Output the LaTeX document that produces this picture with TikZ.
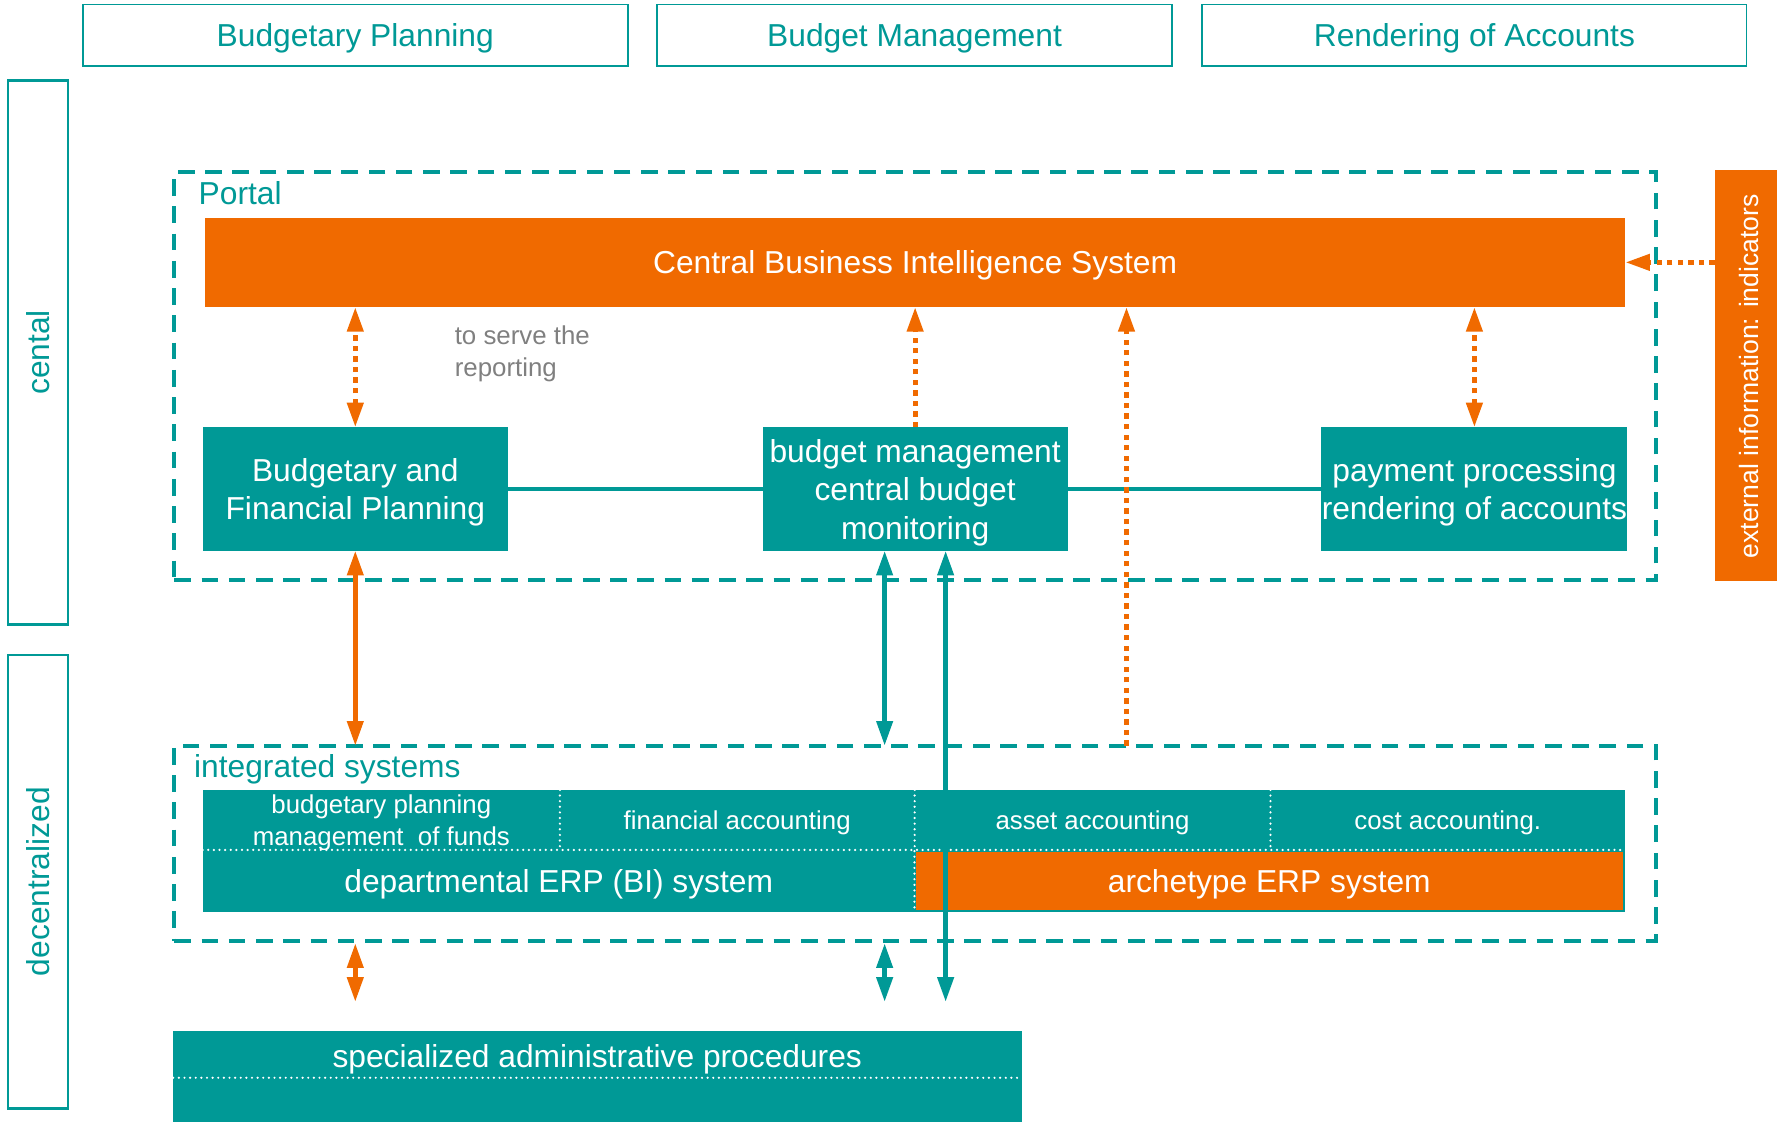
\documentclass[tikz,border=0pt]{standalone}
\usepackage{fontspec}
\setmainfont{Liberation Sans}
\usetikzlibrary{arrows.meta,calc}

\definecolor{bteal}{RGB}{0,153,150}
\definecolor{borange}{RGB}{240,106,0}
\definecolor{bgray}{RGB}{128,128,128}

\newcommand\fsMain{\fontsize{18.06}{21.9}\selectfont}
\newcommand\fsSmall{\fontsize{14.7}{18.06}\selectfont}
\newcommand\fsExt{\fontsize{15.1}{18}\selectfont}
\newlength\unitpx
\setlength\unitpx{0.64493pt}

\tikzset{
  bx/.style={inner sep=0pt, outer sep=0pt, rectangle},
  % rectangle given by its corners (x1,y1) (x2,y2) in picture units
  span/.style n args={4}{at={({(#1+#3)/2},{(#2+#4)/2})},
    minimum width={(#3-#1)*\unitpx}, minimum height={(#4-#2)*\unitpx}},
  phase/.style={bx, draw=bteal, line width=1.1pt, text=bteal, font=\fsMain, text depth=-0.6pt},
  level/.style={bx, draw=bteal, line width=1.3pt},
  leveltext/.style={rotate=90, text=bteal, font=\fsMain},
  region/.style={bx, draw=bteal, line width=2.3pt, dash pattern=on 9.5pt off 6pt},
  regionlabel/.style={anchor=west, inner sep=0pt, text=bteal, font=\fsMain},
  orangebox/.style={bx, fill=borange, text=white, font=\fsMain, align=center, text depth=-1pt},
  tealbox/.style={bx, fill=bteal, text=white, font=\fsMain, align=center, text depth=-1.4pt},
  cell/.style={bx, text=white, font=\fsSmall, align=center, text depth=-2pt},
  note/.style={anchor=west, inner sep=0pt, text=bgray, font=\fsSmall, align=left},
  wdots/.style={draw=white, line width=1.4pt, line cap=round, dash pattern=on 0pt off 3.2pt},
  odot/.style={draw=borange, line width=2.8pt, dash pattern=on 3pt off 3pt},
  oline/.style={draw=borange, line width=2.6pt},
  tline/.style={draw=bteal, line width=2.6pt},
  >={Triangle[length=14pt,width=9pt]}
}

\begin{document}
\begin{tikzpicture}[x=0.0226667cm, y=-0.0226667cm]
\useasboundingbox (0,0) rectangle (1568,990);

% process phases
\node[phase, span={73}{4}{554}{58}] (hplan) {Budgetary Planning};
\node[phase, span={580}{4}{1034}{58}] (hmgmt) {Budget Management};
\node[phase, span={1061}{4}{1541}{58}] (hrend) {Rendering of Accounts};

% organisational levels
\node[level, span={7}{71}{60}{551}] (lcent) {};
\node[leveltext] (lcenttext) at (lcent.center) {cental};
\node[level, span={7}{578}{60}{978}] (ldec) {};
\node[leveltext] (ldectext) at (ldec.center) {decentralized};

% portal layer
\node[region, span={154}{152}{1461}{512}] (portal) {};
\node[regionlabel] (portallabel) at (175,170) {Portal};
\node[orangebox, span={181}{192}{1434}{271}] (cbis) {Central Business Intelligence System};
\node[tealbox, span={179}{377}{448}{486}] (bfp) {Budgetary and\\Financial Planning};
\node[tealbox, span={673}{377}{942}{486}] (bm) {budget management\\central budget\\monitoring};
\node[tealbox, span={1166}{377}{1436}{486}] (pay) {payment processing\\rendering of accounts};
\node[note] (reportnote) at (401,312.5) {to serve the\\reporting};

% external source
\node[orangebox, span={1513}{150}{1572}{513}] (ext) {};
\node[rotate=90, text=white, font=\fsExt] (exttext) at (1543,332) {external information: indicators};

% integrated systems layer
\node[region, span={154}{658}{1461}{830}] (intg) {};
\node[regionlabel] (intglabel) at (171,678.5) {integrated systems};
\node[bx, fill=bteal, span={179}{697}{1434}{805}] (erp) {};
\node[cell, span={179}{697}{494}{750}] (cplan) {budgetary planning\\management~ of funds};
\node[cell, span={494}{697}{807}{750}] (cfin) {financial accounting};
\node[cell, span={807}{697}{1121}{750}] (casset) {asset accounting};
\node[cell, span={1121}{697}{1434}{750}] (ccost) {cost accounting.};
\node[tealbox, span={179}{750}{807}{805}] (dept) {departmental ERP (BI) system};
\node[orangebox, draw=bteal, line width=1.4pt, span={807}{751}{1433}{804}] (arch) {archetype ERP system};
\draw[wdots] (erp.west |- dept.north) -- (erp.east |- dept.north);
\draw[wdots] (cplan.north east) -- (cplan.south east);
\draw[wdots] (cfin.north east) -- (cfin.south east);
\draw[wdots] (casset.north east) -- (casset.south east);
\draw[wdots] (arch.north west) -- (arch.south west);

% specialised procedures
\node[bx, fill=bteal, span={153}{910}{902}{996}] (spec) {};
\node[text=white, font=\fsMain] (spectext) at (527,934.5) {specialized administrative procedures};
\coordinate (specrule) at (0,951);
\draw[wdots] (spec.west |- specrule) -- (spec.east |- specrule);

% links inside the portal
\draw[tline] (bfp.east) -- (bm.west);
\draw[tline] (bm.east) -- (pay.west);

% reporting flows to the BI system
\draw[odot, <->] (bfp.north) -- (bfp.north |- cbis.south);
\draw[odot, ->] (bm.north) -- (bm.north |- cbis.south);
\draw[odot, <->] (pay.north) -- (pay.north |- cbis.south);
\coordinate (reportfeed) at (994,658);
\draw[odot, ->] (reportfeed) -- (reportfeed |- cbis.south);
\draw[odot, ->] (ext.west |- cbis.east) -- (cbis.east);

% exchange between levels
\coordinate (bmdown) at ($(bm.south west)!0.4!(bm.south east)$);
\coordinate (bmfeed) at ($(bm.south west)!0.6!(bm.south east)$);
\coordinate (lowlevel) at (0,884);
\draw[oline, <->] (bfp.south) -- (bfp.south |- intg.north);
\draw[tline, <->] (bmdown) -- (bmdown |- intg.north);
\draw[tline, <->] (bmfeed) -- (bmfeed |- lowlevel);
\draw[oline, <->, shorten <=1.5pt] (bfp.south |- intg.south) -- (bfp.south |- lowlevel);
\draw[tline, <->, shorten <=1.5pt] (bmdown |- intg.south) -- (bmdown |- lowlevel);
\end{tikzpicture}
\end{document}
